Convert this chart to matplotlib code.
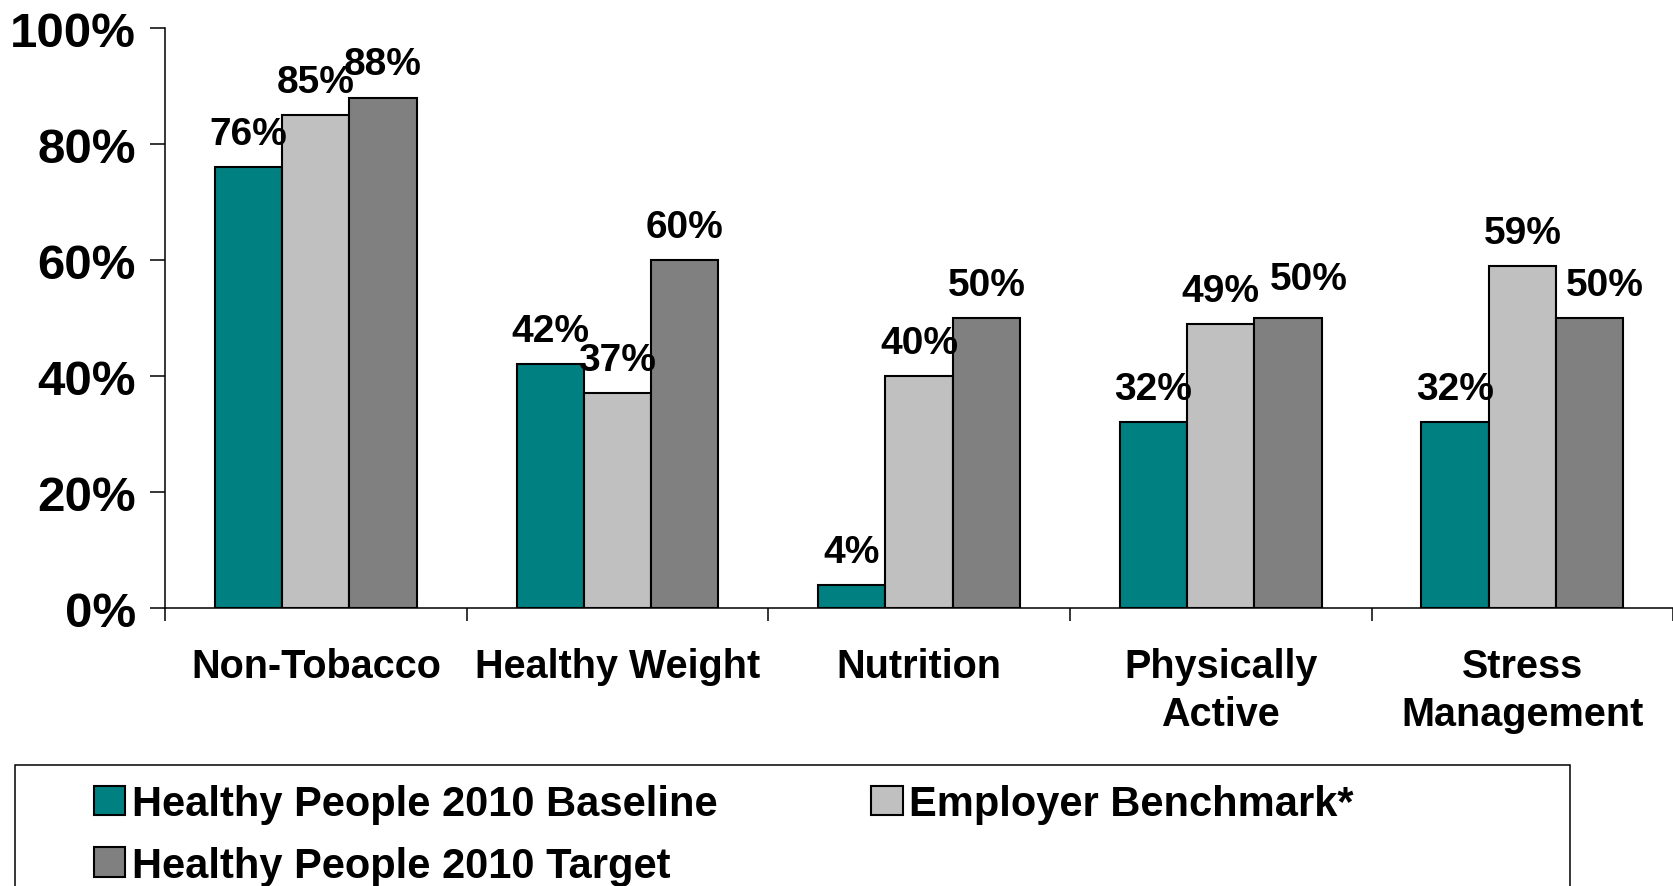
import numpy as np
import matplotlib.pyplot as plt
from matplotlib.patches import Rectangle

plt.rcParams['font.family'] = ['Liberation Sans', 'DejaVu Sans']
plt.rcParams['font.weight'] = 'bold'

categories = ['Non-Tobacco', 'Healthy Weight', 'Nutrition', 'Physically\nActive', 'Stress\nManagement']
baseline = [76, 42, 4, 32, 32]
benchmark = [85, 37, 40, 49, 59]
target = [88, 60, 50, 50, 50]
series_names = ['Healthy People 2010 Baseline', 'Employer Benchmark*', 'Healthy People 2010 Target']
colors = ['#008080', '#C0C0C0', '#808080']
yticks = [0, 20, 40, 60, 80, 100]

# label nudges (points) for the target series, so labels don't collide
target_nudge = {3: (15, 4), 4: (11, 0)}


def main():
    fig = plt.figure(figsize=(16.74, 8.87), dpi=100)
    ax = fig.add_axes([0.0986, 0.3134, 0.9009, 0.6539])

    x = np.arange(len(categories))
    w = 0.223
    pad = 11
    bars = []
    for i, (vals, name, c) in enumerate(zip([baseline, benchmark, target], series_names, colors)):
        b = ax.bar(x + (i - 1) * w, vals, width=w, color=c, edgecolor='black',
                   linewidth=1.5, label=name, zorder=2)
        texts = ax.bar_label(b, labels=[f'{v}%' for v in vals], padding=pad,
                             fontsize=28, fontweight='bold')
        if i == 2:
            for k, (dx, dy) in target_nudge.items():
                texts[k].xyann = (dx, pad + dy)
        bars.append(b)

    ax.set_xlim(-0.5, len(categories) - 0.5)
    ax.set_ylim(0, 100)
    ax.set_yticks(yticks)
    ax.set_yticklabels([f'{v}%' for v in yticks], fontsize=35.5, fontweight='bold')
    ax.tick_params(axis='y', length=11, width=1.1, pad=10)

    ax.set_xticks(x)
    ax.set_xticklabels(categories, fontsize=28.5, fontweight='bold', linespacing=1.35)
    ax.tick_params(axis='x', which='major', length=0, pad=28)
    ax.set_xticks(np.arange(len(categories) + 1) - 0.5, minor=True)
    ax.tick_params(axis='x', which='minor', length=9, width=1.1)

    for s in ['top', 'right']:
        ax.spines[s].set_visible(False)
    ax.spines['left'].set_linewidth(1.1)
    ax.spines['bottom'].set_linewidth(1.1)

    # legend: order so that row 1 = baseline, benchmark; row 2 = target
    handles = [bars[0], bars[2], bars[1]]
    labels = [series_names[0], series_names[2], series_names[1]]
    fig.legend(handles, labels, loc='upper left', bbox_to_anchor=(0.0562, 0.115),
               ncol=2, frameon=False, borderpad=0, borderaxespad=0,
               handlelength=0.75, handleheight=0.7, handletextpad=0.15,
               columnspacing=3.7, labelspacing=0.52,
               prop={'weight': 'bold', 'size': 30})
    fig.patches.append(Rectangle((15 / 1674, -0.05), (1570 - 15) / 1674, 0.05 + 1 - 766 / 887,
                                 transform=fig.transFigure, fill=False,
                                 edgecolor='black', linewidth=1.1))

    fig.savefig('out.png', dpi=100)
    plt.close(fig)


if __name__ == '__main__':
    main()
